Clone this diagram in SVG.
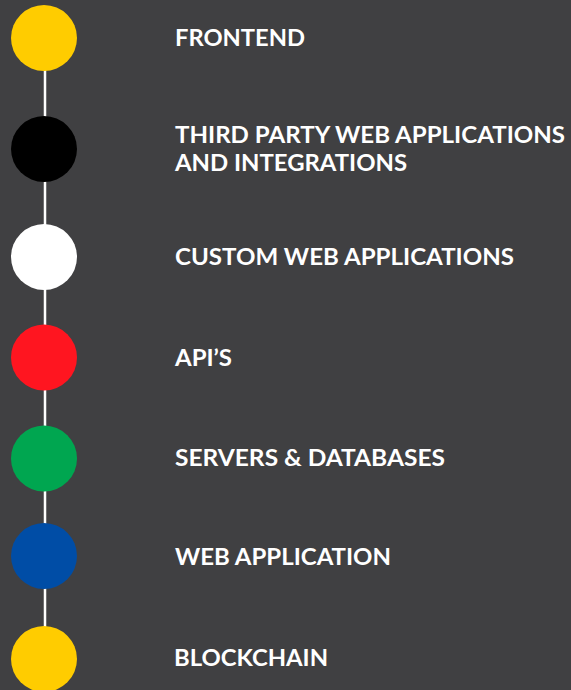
<svg xmlns="http://www.w3.org/2000/svg" width="571" height="690" viewBox="0 0 571 690">
<style>
.lbl{font-family:Lato,"Open Sans","Liberation Sans",sans-serif;font-weight:700;font-size:22px;fill:#ffffff}
</style>
<rect x="0" y="0" width="571" height="690" fill="#404042"/>
<g id="connectors">
<line x1="45" y1="60" x2="45" y2="640" stroke="#ffffff" stroke-width="2.5"/>
</g>
<g id="n1"><circle cx="44" cy="38" r="33" fill="#ffcc00"/><text class="lbl" x="175" y="46" textLength="130" lengthAdjust="spacingAndGlyphs">FRONTEND</text></g>
<g id="n2"><circle cx="44" cy="149" r="33" fill="#000000"/><text class="lbl" x="175" y="143" textLength="390" lengthAdjust="spacingAndGlyphs">THIRD PARTY WEB APPLICATIONS</text><text class="lbl" x="175" y="171" textLength="232" lengthAdjust="spacingAndGlyphs">AND INTEGRATIONS</text></g>
<g id="n3"><circle cx="44" cy="257" r="33" fill="#ffffff"/><text class="lbl" x="175" y="265" textLength="339" lengthAdjust="spacingAndGlyphs">CUSTOM WEB APPLICATIONS</text></g>
<g id="n4"><circle cx="44" cy="357.5" r="33" fill="#ff1520"/><text class="lbl" x="175" y="366" textLength="57" lengthAdjust="spacingAndGlyphs">API’S</text></g>
<g id="n5"><circle cx="44" cy="458.5" r="33" fill="#00a650"/><text class="lbl" x="175" y="466" textLength="270" lengthAdjust="spacingAndGlyphs">SERVERS &amp; DATABASES</text></g>
<g id="n6"><circle cx="44" cy="556" r="33" fill="#004da6"/><text class="lbl" x="175" y="565" textLength="216" lengthAdjust="spacingAndGlyphs">WEB APPLICATION</text></g>
<g id="n7"><circle cx="44" cy="659" r="33" fill="#ffcc00"/><text class="lbl" x="174" y="666" textLength="154" lengthAdjust="spacingAndGlyphs">BLOCKCHAIN</text></g>
</svg>
